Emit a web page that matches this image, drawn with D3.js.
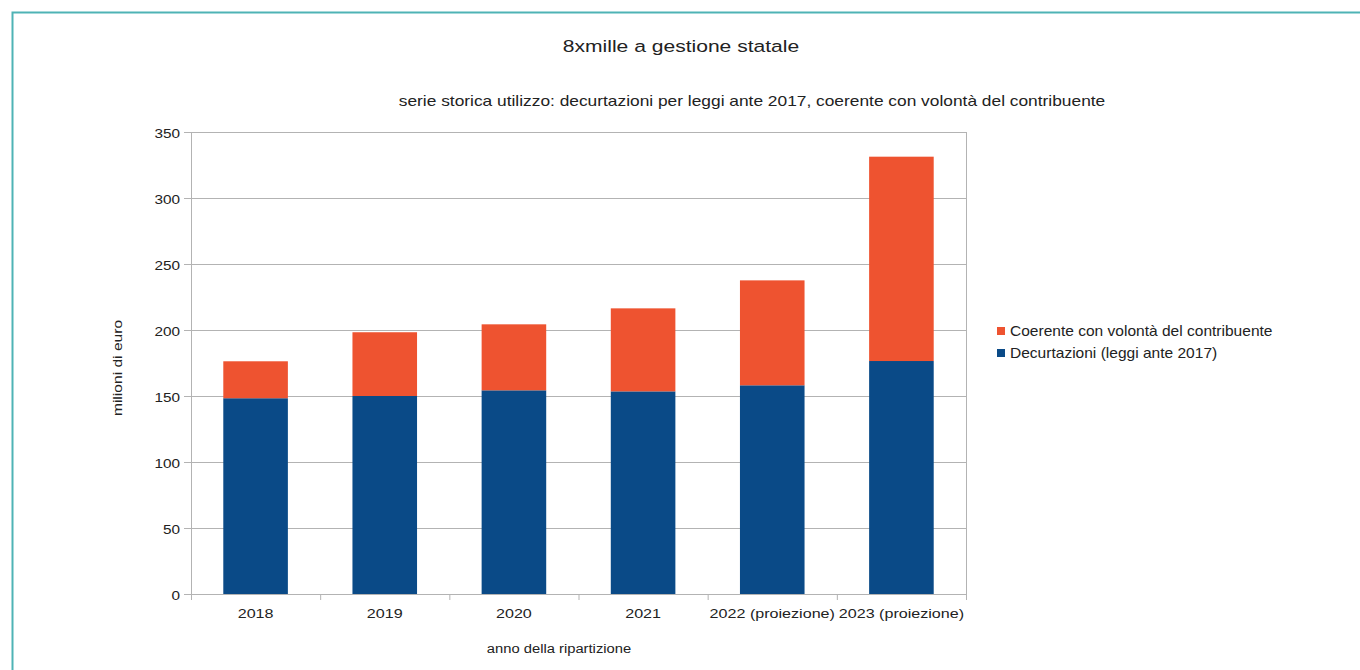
<!DOCTYPE html>
<html>
<head>
<meta charset="utf-8">
<script src="https://cdn.jsdelivr.net/npm/d3@7"></script>
<style>
  body { margin: 0; background: #fff; }
  text { font-family: "Liberation Sans", Arial, sans-serif; fill: #222; }
</style>
</head>
<body>
<svg id="chart" width="1360" height="670"></svg>
<script>
// data
var years = ["2018", "2019", "2020", "2021", "2022 (proiezione)", "2023 (proiezione)"];
var decurtazioni = [148.3, 150, 154.3, 153.5, 158.1, 176.5];
var coerente = [28, 48.3, 50, 62.9, 79.5, 154.8];
var yTicks = [0, 50, 100, 150, 200, 250, 300, 350];
var seriesNames = ["Coerente con volontà del contribuente", "Decurtazioni (leggi ante 2017)"];
var colors = {blue: "#0a4a87", orange: "#ee5330"};

var svg = d3.select("svg#chart"),
    margin = {left: 191, right: 394, top: 132, bottom: 76},
    width = 1360 - margin.left - margin.right,
    height = 670 - margin.top - margin.bottom;

// the text in the original is drawn wider than the font, stretch it sideways
function stretch(sel, s) {
  sel.each(function() {
    var t = d3.select(this),
        tx = +t.attr("x") || 0,
        ty = +t.attr("y") || 0;
    t.attr("x", 0).attr("y", 0)
      .attr("transform", "translate(" + tx + "," + ty + ") scale(" + s + ",1)");
  });
}

// frame
svg.append("rect")
  .attr("x", 12.5).attr("y", 12.5)
  .attr("width", 1400).attr("height", 700)
  .attr("fill", "none")
  .attr("stroke", "#4fb3b5")
  .attr("stroke-width", 2);

// titles
svg.append("text")
  .attr("x", 681).attr("y", 52)
  .attr("text-anchor", "middle")
  .attr("font-size", "17px")
  .text("8xmille a gestione statale")
  .call(stretch, 1.24);

svg.append("text")
  .attr("x", 752).attr("y", 106)
  .attr("text-anchor", "middle")
  .attr("font-size", "14px")
  .text("serie storica utilizzo: decurtazioni per leggi ante 2017, coerente con volontà del contribuente")
  .call(stretch, 1.24);

var g = svg.append("g").attr("transform", "translate(" + margin.left + "," + margin.top + ")");

var x = d3.scaleBand()
  .domain(years)
  .range([0, width])
  .paddingInner(0.5)
  .paddingOuter(0.25);

var xOuter = d3.scaleBand().domain(years).range([0, width]);

var y = d3.scaleLinear()
  .domain([0, 350])
  .range([height, 0]);

// gridlines
g.append("g")
  .attr("class", "grid")
  .selectAll("line")
  .data(yTicks)
  .enter().append("line")
    .attr("x1", -7)
    .attr("x2", width)
    .attr("y1", function(d) { return y(d) + 0.5; })
    .attr("y2", function(d) { return y(d) + 0.5; })
    .attr("stroke", "#b3b3b3")
    .attr("stroke-width", 1);

// right border of plot wall
g.append("line")
  .attr("x1", width + 0.5).attr("x2", width + 0.5)
  .attr("y1", 0).attr("y2", height)
  .attr("stroke", "#b3b3b3");

// bars
var stacked = years.map(function(d, i) {
  return {year: d, blue: decurtazioni[i], orange: coerente[i]};
});

var bar = g.selectAll(".bar")
  .data(stacked)
  .enter().append("g")
    .attr("class", "bar");

bar.append("rect")
  .attr("x", function(d) { return x(d.year); })
  .attr("width", x.bandwidth())
  .attr("y", function(d) { return y(d.blue); })
  .attr("height", function(d) { return height - y(d.blue); })
  .attr("fill", colors.blue);

bar.append("rect")
  .attr("x", function(d) { return x(d.year); })
  .attr("width", x.bandwidth())
  .attr("y", function(d) { return y(d.blue + d.orange); })
  .attr("height", function(d) { return y(d.blue) - y(d.blue + d.orange); })
  .attr("fill", colors.orange);

// y axis
g.append("g")
  .attr("class", "axisy")
  .call(d3.axisLeft(y)
    .tickValues(yTicks)
    .tickSizeInner(7)
    .tickSizeOuter(0)
    .tickPadding(4))
  .call(function(a) {
    a.select(".domain").attr("stroke", "#b3b3b3");
    a.selectAll(".tick line").attr("stroke", "#b3b3b3");
    a.selectAll(".tick text")
      .attr("font-size", "13px")
      .attr("font-family", "Liberation Sans, Arial, sans-serif")
      .attr("fill", "#222")
      .attr("dy", null)
      .attr("y", 5)
      .attr("x", -11)
      .call(stretch, 1.18);
  });

// x axis with ticks at category boundaries
var xAxis = g.append("g")
  .attr("class", "axisx")
  .attr("transform", "translate(0," + height + ")");

xAxis.append("line")
  .attr("x1", 0).attr("x2", width)
  .attr("y1", 0.5).attr("y2", 0.5)
  .attr("stroke", "#b3b3b3");

xAxis.selectAll(".xtick")
  .data(years.concat(["end"]))
  .enter().append("line")
    .attr("x1", function(d, i) { return i * xOuter.step() + 0.5; })
    .attr("x2", function(d, i) { return i * xOuter.step() + 0.5; })
    .attr("y1", 0)
    .attr("y2", 6)
    .attr("stroke", "#b3b3b3");

xAxis.selectAll(".xlabel")
  .data(years)
  .enter().append("text")
    .attr("x", function(d) { return x(d) + x.bandwidth() / 2; })
    .attr("y", 24)
    .attr("text-anchor", "middle")
    .attr("font-size", "13px")
    .text(function(d) { return d; })
    .call(stretch, 1.24);

// axis titles
svg.append("text")
  .attr("x", 559).attr("y", 653)
  .attr("text-anchor", "middle")
  .attr("font-size", "12px")
  .text("anno della ripartizione")
  .call(stretch, 1.23);

svg.append("text")
  .attr("transform", "translate(122,368) rotate(-90) scale(1.3,1)")
  .attr("text-anchor", "middle")
  .attr("font-size", "12px")
  .text("milioni di euro");

// legend
var legend = svg.append("g").attr("transform", "translate(997,327)");
var legendColors = [colors.orange, colors.blue];

legend.selectAll("rect")
  .data(seriesNames)
  .enter().append("rect")
    .attr("x", 0)
    .attr("y", function(d, i) { return i * 22; })
    .attr("width", 8)
    .attr("height", 8)
    .attr("fill", function(d, i) { return legendColors[i]; });

legend.selectAll("text")
  .data(seriesNames)
  .enter().append("text")
    .attr("x", 13)
    .attr("y", function(d, i) { return i * 22 + 9; })
    .attr("font-size", "14px")
    .text(function(d) { return d; })
    .call(stretch, 1.11);
</script>
</body>
</html>
